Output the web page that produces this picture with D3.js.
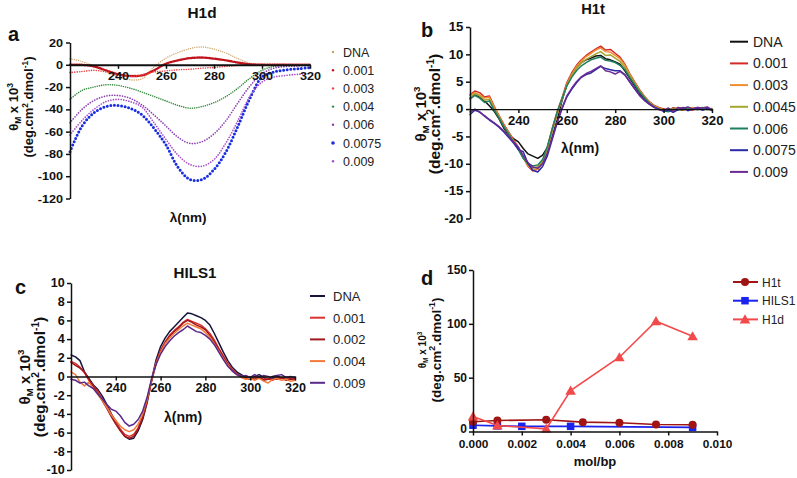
<!DOCTYPE html>
<html><head><meta charset="utf-8">
<script src="https://cdn.jsdelivr.net/npm/d3@7"></script>
<style>body{margin:0;background:#fff}svg{display:block}</style>
</head><body><svg id="chart" width="797" height="478"></svg>
<script>
// ---------- Panel a (H1d) ----------
const wlA = [220,225,230,235,240,245,250,255,260,265,270,275,280,285,290,295,300,305,310,315,320];
const a_DNA   = [5.5,3,-1,-6,-11,-13.5,-12.5,-2,6,11,14.5,16,14,10.5,5.5,1.5,0.5,0,0,0,0];
const a_0001  = [0,0,-1.5,-5,-8.5,-10,-9.5,-5,1,4,6,6.5,5.5,4,2,0.5,0,0,0,0,0];
const a_0003  = [-7,-6,-5,-6.5,-9,-10.5,-9,-6.5,-5.5,-4.5,-4,-3,-2.5,-1.5,-0.5,0,0.5,0.5,0.3,0,0];
const a_0004  = [-31,-23,-20,-18,-18.5,-21,-24.5,-28.5,-32.5,-36.5,-39,-37.5,-34,-28.5,-21,-12,-5,-1.5,-0.5,0,0];
const a_0006  = [-52,-40,-32,-28,-27.5,-30,-36,-45,-55,-65,-70.5,-69,-62,-50,-34,-19,-8,-3,-1.5,-1,-0.5];
const a_00075 = [-78,-55,-43,-37.5,-36.5,-39,-45,-57,-72,-92,-103,-103,-94,-78,-55,-30,-11,-6.5,-4.5,-3.5,-2.5];
const a_0009  = [-63,-50,-40,-33,-31,-33,-38,-52,-67,-81,-89.5,-91,-85,-70,-50,-28,-15.5,-11,-9.5,-8.5,-8];
const a_labels = ["DNA","0.001","0.003","0.004","0.006","0.0075","0.009"];
const a_yTicks = [20,0,-20,-40,-60,-80,-100,-120];
const spectraXTicks = [240,260,280,300,320];

// ---------- Panel b (H1t) ----------
const wlB = [220,222,224,226,228,230,232,234,236,238,240,242,244,246,248,250,252,254,256,258,260,262,264,266,268,270,272,274,276,278,280,282,284,286,288,290,292,294,296,298,300,302,304,306,308,310,312,314,316,318,320];
const b_DNA   = [2.0,2.7,2.2,1.5,0.6,-0.4,-1.8,-3.5,-4.7,-5.4,-6.0,-7.2,-8.2,-8.6,-9.0,-8.4,-7.0,-5.0,-2.0,1.5,4.4,6.2,7.6,8.5,9.0,9.3,9.7,9.8,9.2,9.0,8.6,8.2,7.0,5.6,4.3,3.0,2.0,1.0,0.5,0.1,0.0,-0.3,0.2,0.0,-0.2,0.2,0.1,-0.1,0.2,0.1,-0.1];
const b_0001  = [2.6,3.3,3.0,2.2,2.4,0.5,-1.2,-2.8,-4.2,-5.6,-7.0,-8.8,-10.5,-11.3,-11.0,-9.8,-7.0,-3.5,-0.5,2.0,4.8,6.6,8.0,9.0,9.8,10.4,11.0,11.5,10.8,10.9,10.2,9.5,8.2,6.5,5.0,3.6,2.4,1.4,0.7,0.3,0.0,-0.3,0.2,-0.1,0.3,0.0,-0.2,0.2,0.0,0.3,-0.3];
const b_0003  = [2.5,3.0,2.6,2.0,2.2,0.3,-1.3,-3.0,-4.4,-5.8,-7.2,-8.9,-10.4,-11.0,-11.0,-10.0,-7.5,-4.0,-1.0,1.8,4.5,6.3,7.8,8.8,9.6,10.2,10.8,11.2,10.5,10.4,9.8,9.2,8.0,6.4,4.9,3.5,2.3,1.3,0.6,0.2,-0.1,-0.4,0.1,0.2,-0.2,0.1,0.3,-0.1,0.2,0.0,-0.2];
const b_00045 = [2.0,2.8,2.4,1.6,1.8,0.0,-1.5,-3.1,-4.5,-5.9,-7.3,-8.9,-10.2,-10.8,-10.5,-9.5,-7.0,-3.8,-0.8,1.8,4.3,6.0,7.4,8.4,9.1,9.6,10.1,10.5,9.8,9.9,9.3,8.7,7.6,6.1,4.7,3.3,2.2,1.2,0.5,0.1,-0.2,0.1,-0.3,0.2,0.0,0.3,-0.1,0.1,0.3,0.0,0.1];
const b_0006  = [1.8,2.5,2.0,1.2,1.5,-0.2,-1.6,-3.2,-4.6,-6.0,-7.4,-9.0,-10.0,-10.4,-10.2,-9.2,-6.8,-3.6,-0.6,1.9,4.2,5.8,7.0,7.9,8.5,9.0,9.3,9.5,8.9,8.8,8.5,8.0,7.2,5.8,4.5,3.2,2.1,1.1,0.4,0.0,-0.3,-0.5,0.0,-0.2,0.2,0.1,0.0,0.3,0.1,-0.1,0.0];
const b_00075 = [-1.0,-0.2,-0.5,-1.3,-2.0,-2.6,-3.3,-4.2,-5.2,-6.2,-7.4,-7.8,-10.0,-11.2,-11.5,-10.5,-8.5,-5.5,-2.5,0.0,2.2,3.6,4.8,5.8,6.3,6.6,7.2,7.8,7.4,7.2,7.0,7.0,6.3,5.0,3.8,2.6,1.7,1.0,0.4,0.0,-0.4,-0.2,-0.6,-0.1,0.2,-0.3,0.0,0.2,-0.2,0.1,-0.2];
const b_0009  = [-0.5,0.0,-0.6,-1.2,-1.9,-2.5,-3.2,-4.0,-5.0,-6.0,-7.0,-8.5,-9.8,-10.6,-10.8,-10.0,-8.0,-5.2,-2.4,0.2,2.4,3.8,5.0,5.9,6.5,6.9,7.4,7.9,7.0,6.8,6.4,6.9,6.2,5.0,3.7,2.5,1.6,0.9,0.3,-0.1,-0.3,0.2,-0.5,0.3,0.1,0.4,0.0,0.3,0.2,0.4,-0.1];
const b_labels = ["DNA","0.001","0.003","0.0045","0.006","0.0075","0.009"];
const b_yTicks = [15,10,5,0,-5,-10,-15,-20];

// ---------- Panel c (HILS1) ----------
const c_DNA  = [2.3,2.1,1.7,0.5,-0.2,-0.9,-1.4,-2.1,-3.0,-4.0,-4.8,-5.7,-6.4,-6.7,-6.6,-5.8,-4.6,-2.8,-0.3,1.8,3.2,4.1,4.8,5.3,5.8,6.3,6.8,6.7,6.5,6.3,6.0,5.5,4.6,3.6,2.6,1.7,1.0,0.5,0.2,-0.1,-0.3,0.0,0.2,-0.1,-0.3,0.0,0.1,-0.2,-0.1,-0.2,-0.2];
const c_0001 = [1.6,1.4,1.0,0.4,-0.4,-1.0,-1.6,-2.4,-3.2,-4.1,-4.9,-5.6,-6.2,-6.4,-6.2,-5.5,-4.3,-2.6,-0.4,1.5,2.8,3.7,4.4,4.9,5.3,5.8,6.1,5.9,5.7,5.5,5.1,4.6,3.9,3.0,2.2,1.4,0.8,0.3,0.0,-0.2,-0.3,-0.1,0.0,-0.3,-0.2,-0.4,-0.1,-0.2,-0.3,-0.1,-0.4];
const c_0002 = [1.5,1.2,0.9,0.5,-0.3,-1.1,-1.8,-2.6,-3.4,-4.3,-5.1,-5.8,-6.4,-6.6,-6.4,-5.6,-4.4,-2.6,-0.5,1.4,2.7,3.6,4.3,4.8,5.2,5.7,6.0,5.8,5.5,5.3,5.0,4.4,3.7,2.9,2.1,1.3,0.7,0.3,0.0,-0.1,-0.2,-0.3,-0.1,-0.4,-0.3,-0.2,-0.3,-0.1,-0.4,-0.3,-0.3];
const c_0004 = [0.5,0.2,-0.6,-1.0,-0.6,-1.3,-1.9,-2.6,-3.3,-4.1,-4.7,-5.3,-5.7,-5.9,-5.7,-5.1,-4.0,-2.4,-0.3,1.4,2.6,3.5,4.1,4.6,5.0,5.4,5.7,5.5,5.3,5.1,4.7,4.2,3.5,2.7,1.9,1.2,0.6,0.2,-0.1,-0.3,-0.2,-0.4,-0.2,-0.5,-0.7,-0.3,-0.2,-0.4,-0.3,-0.5,-0.4];
const c_0009 = [-0.3,-0.4,-0.7,-0.6,-1.0,-1.3,-1.9,-2.4,-3.0,-3.5,-3.7,-4.2,-4.9,-5.3,-5.1,-4.6,-3.7,-2.2,-0.2,1.3,2.4,3.2,3.8,4.3,4.7,5.0,5.4,5.1,4.8,4.7,4.4,4.0,3.4,2.6,1.8,1.1,0.6,0.2,0.0,0.1,-0.1,0.2,-0.1,0.1,0.0,-0.2,0.1,0.2,-0.1,0.0,-0.1];
const c_labels = ["DNA","0.001","0.002","0.004","0.009"];
const c_yTicks = [10,8,6,4,2,0,-2,-4,-6,-8,-10];

// ---------- Panel d ----------
const d_xH1t   = [0,0.001,0.003,0.0045,0.006,0.0075,0.009];
const d_H1t    = [9,10.2,10.9,8.7,8.1,6.5,6.2];
const d_xHILS1 = [0,0.001,0.002,0.004,0.009];
const d_HILS1  = [5.8,5.2,4.8,4.8,3.8];
const d_xH1d   = [0,0.001,0.003,0.004,0.006,0.0075,0.009];
const d_H1d    = [14,5.5,2.5,38,69,102.5,88.5];
const d_labels = ["H1t","HILS1","H1d"];
const d_xTicks = [0,0.002,0.004,0.006,0.008,0.010];
const d_yTicks = [0,50,100,150];

// ================= drawing =================
const svg = d3.select("#chart").style("font-family","'Liberation Sans', Arial, Helvetica, sans-serif");
svg.append("rect").attr("width",797).attr("height",478).attr("fill","#fff");
const plainFmt = d => String(d);   // hyphen minus, as in the reference

function T(parent, x, y, str, o={}) {
  const size=o.size||12, sx=o.sx||1;
  let tr=`translate(${x},${y})`;
  if (o.rot) tr+=` rotate(${o.rot})`;
  if (sx!==1) tr+=` scale(${sx},1)`;
  return parent.append("text").attr("transform",tr).attr("font-size",size)
    .attr("font-weight",o.weight||"bold").attr("text-anchor",o.anchor||"start")
    .attr("fill",o.fill||"#111").text(str);
}
function yTitle(x1, x2, cy, s1, s2) {
  const t1 = svg.append("text").attr("transform",`translate(${x1},${cy}) rotate(-90)`)
    .attr("font-size",s1).attr("font-weight","bold").attr("text-anchor","middle").attr("fill","#111");
  t1.append("tspan").text("θ");
  t1.append("tspan").attr("font-size",s1*0.65).attr("dy",s1*0.22).text("M");
  t1.append("tspan").attr("dy",-s1*0.22).text(" x 10");
  t1.append("tspan").attr("font-size",s1*0.65).attr("dy",-s1*0.42).text("3");
  const t2 = svg.append("text").attr("transform",`translate(${x2},${cy}) rotate(-90)`)
    .attr("font-size",s2).attr("font-weight","bold").attr("text-anchor","middle").attr("fill","#111");
  t2.append("tspan").text("(deg.cm");
  t2.append("tspan").attr("font-size",s2*0.65).attr("dy",-s2*0.42).text("2");
  t2.append("tspan").attr("dy",s2*0.42).text(".dmol");
  t2.append("tspan").attr("font-size",s2*0.65).attr("dy",-s2*0.42).text("-1");
  t2.append("tspan").attr("dy",s2*0.42).text(")");
}
function styleAxis(g, size, sx, w) {
  g.selectAll("path.domain").attr("stroke","#111").attr("stroke-width",w||1.5);
  g.selectAll(".tick line").attr("stroke","#111").attr("stroke-width",1.5);
  g.selectAll(".tick text").attr("font-size",size).attr("font-weight","bold").attr("fill","#111")
    .attr("font-family","'Liberation Sans', Arial, sans-serif").attr("transform",`scale(${sx},1)`);
}

function spectraPanel(p) {
  const x = d3.scaleLinear([220,320],[p.x0,p.x1]);
  const y = d3.scaleLinear(p.yDom,[p.yB,p.yT]);
  const line = d3.line().x((d,i)=>x(p.wl[i])).y(d=>y(d)).curve(p.curve||d3.curveLinear);
  const g = svg.append("g");
  p.series.forEach(s=>{
    g.append("path").attr("d",line(s.v)).attr("fill","none").attr("stroke",s.c)
      .attr("stroke-width",s.w).attr("stroke-linecap","round").attr("stroke-linejoin","round")
      .attr("stroke-dasharray",s.dash||null);
  });
  const ya = svg.append("g").attr("transform",`translate(${p.x0},0)`)
    .call(d3.axisLeft(y).tickValues(p.yTicks).tickFormat(plainFmt).tickSize(4).tickPadding(2).tickSizeOuter(0));
  styleAxis(ya, p.tickSize, p.tsx);
  const xa = svg.append("g").attr("transform",`translate(0,${y(0)})`)
    .call(d3.axisBottom(x).tickValues(spectraXTicks).tickFormat(plainFmt).tickSize(4).tickPadding(3).tickSizeOuter(0));
  styleAxis(xa, p.tickSize, p.tsx, p.xw);
  return {x,y};
}

// ----- Panel a -----
const aCols = ["#c9a064","#c0141c","#f04040","#2f8a38","#8a3fb0","#1a2ee0","#a64cc8"];
const aVals = [a_DNA,a_0001,a_0003,a_0004,a_0006,a_00075,a_0009];
const aW = [1.4,2.4,1.6,1.6,1.7,3,1.7];
const aDash = ["0 2.2","0 1.6","0 2.4","0 2.2","0 2.6","0 3.6","0 2.6"];
spectraPanel({x0:70,x1:310,yT:42.5,yB:198.5,yDom:[-120,20],yTicks:a_yTicks,wl:wlA,
  curve:d3.curveCatmullRom, tickSize:11, tsx:1.15, xw:2,
  series:aVals.map((v,i)=>({v,c:aCols[i],w:aW[i],dash:aDash[i]}))});
T(svg,202,18,"H1d",{size:14,anchor:"middle",sx:1.1});
T(svg,8,41,"a",{size:20});
yTitle(18,33,107,13,13);
T(svg,188,222,"λ(nm)",{size:13.5,anchor:"middle"});
a_labels.forEach((l,i)=>{
  const cy=52+18.2*i;
  svg.append("circle").attr("cx",333).attr("cy",cy).attr("r",i===5?1.8:1.2).attr("fill",aCols[i]);
  T(svg,343,cy+4.5,l,{size:12.5,weight:"normal",fill:"#222"});
});

// ----- Panel b -----
const bCols = ["#111111","#d42a2a","#f08c32","#a6a632","#1f7f5e","#2a2aa8","#6a2a92"];
const bVals = [b_DNA,b_0001,b_0003,b_00045,b_0006,b_00075,b_0009];
spectraPanel({x0:470,x1:712,yT:27,yB:218.5,yDom:[-20,15],yTicks:b_yTicks,wl:wlB,
  tickSize:12, tsx:1.1, xw:1.3,
  series:bVals.map((v,i)=>({v,c:bCols[i],w:1.5}))});
T(svg,593,14,"H1t",{size:14,anchor:"middle",sx:1.05});
T(svg,421,37,"b",{size:20});
yTitle(426,440,114,15,15.5);
T(svg,580,153,"λ(nm)",{size:14,anchor:"middle"});
b_labels.forEach((l,i)=>{
  const cy=41.7+21.7*i;
  svg.append("line").attr("x1",730).attr("x2",748).attr("y1",cy).attr("y2",cy).attr("stroke",bCols[i]).attr("stroke-width",2);
  T(svg,753,cy+5,l,{size:14,weight:"normal",fill:"#222"});
});

// ----- Panel c -----
const cCols = ["#14143c","#d83232","#a0181c","#f27a3a","#5a2a8a"];
const cVals = [c_DNA,c_0001,c_0002,c_0004,c_0009];
spectraPanel({x0:71,x1:295,yT:283,yB:470,yDom:[-10,10],yTicks:c_yTicks,wl:wlB,
  tickSize:12, tsx:1.05, xw:1.3,
  series:cVals.map((v,i)=>({v,c:cCols[i],w:1.5}))});
T(svg,195,278,"HILS1",{size:14,anchor:"middle",sx:1.08});
T(svg,15,294,"c",{size:20});
yTitle(30,45,377,15,15.5);
T(svg,183,422,"λ(nm)",{size:14,anchor:"middle"});
c_labels.forEach((l,i)=>{
  const cy=296+21.7*i;
  svg.append("line").attr("x1",310).attr("x2",325).attr("y1",cy).attr("y2",cy).attr("stroke",cCols[i]).attr("stroke-width",2);
  T(svg,333,cy+5,l,{size:13,weight:"normal",fill:"#222"});
});

// ----- Panel d -----
const xD = d3.scaleLinear([0,0.010],[473,717]);
const yD = d3.scaleLinear([0,150],[431.5,270]);
const dCols = ["#a01414","#1a22ee","#f24a4a"];
const dLine = d3.line().x(d=>xD(d[0])).y(d=>yD(d[1]));
const gD = svg.append("g");
const sH1t = d_xH1t.map((x,i)=>[x,d_H1t[i]]);
const sHILS1 = d_xHILS1.map((x,i)=>[x,d_HILS1[i]]);
const sH1d = d_xH1d.map((x,i)=>[x,d_H1d[i]]);
const tri = d3.symbol().type(d3.symbolTriangle).size(48);
function drawSquare(g,x,y,c,s){g.append("rect").attr("x",x-s/2).attr("y",y-s/2).attr("width",s).attr("height",s).attr("fill",c);}
gD.append("path").attr("d",dLine(sHILS1)).attr("fill","none").attr("stroke",dCols[1]).attr("stroke-width",1.6);
sHILS1.forEach(d=>drawSquare(gD,xD(d[0]),yD(d[1]),dCols[1],7.5));
gD.append("path").attr("d",dLine(sH1t)).attr("fill","none").attr("stroke",dCols[0]).attr("stroke-width",1.6);
sH1t.forEach(d=>gD.append("circle").attr("cx",xD(d[0])).attr("cy",yD(d[1])).attr("r",4).attr("fill",dCols[0]));
gD.append("path").attr("d",dLine(sH1d)).attr("fill","none").attr("stroke",dCols[2]).attr("stroke-width",1.6);
sH1d.forEach(d=>gD.append("path").attr("d",tri()).attr("transform",`translate(${xD(d[0])},${yD(d[1])+1})`).attr("fill",dCols[2]));
const yaD = svg.append("g").attr("transform","translate(473,0)")
  .call(d3.axisLeft(yD).tickValues(d_yTicks).tickFormat(plainFmt).tickSize(4).tickPadding(2).tickSizeOuter(0));
styleAxis(yaD,12,1.0);
yaD.selectAll(".tick text").filter(d=>d===0).attr("dy","0.1em");
const xaD = svg.append("g").attr("transform","translate(0,431.5)")
  .call(d3.axisBottom(xD).tickValues(d_xTicks).tickFormat(d3.format(".3f")).tickSize(4).tickPadding(4).tickSizeOuter(0));
styleAxis(xaD,11.5,1.03);
T(svg,421,285,"d",{size:20});
(function(){
  const s1=10, s2=13.5, cy=350;
  const t1 = svg.append("text").attr("transform",`translate(426,${cy}) rotate(-90)`)
    .attr("font-size",s1).attr("font-weight","bold").attr("text-anchor","middle").attr("fill","#111");
  t1.append("tspan").text("θ");
  t1.append("tspan").attr("font-size",s1*0.65).attr("dy",s1*0.22).text("M");
  t1.append("tspan").attr("dy",-s1*0.22).text(" x 10");
  t1.append("tspan").attr("font-size",s1*0.65).attr("dy",-s1*0.42).text("3");
  const t2 = svg.append("text").attr("transform",`translate(441,${cy}) rotate(-90)`)
    .attr("font-size",s2).attr("font-weight","bold").attr("text-anchor","middle").attr("fill","#111");
  t2.append("tspan").text("(deg.cm");
  t2.append("tspan").attr("font-size",s2*0.65).attr("dy",-s2*0.42).text("2");
  t2.append("tspan").attr("dy",s2*0.42).text(".dmol");
  t2.append("tspan").attr("font-size",s2*0.65).attr("dy",-s2*0.42).text("-1");
  t2.append("tspan").attr("dy",s2*0.42).text(")");
})();
T(svg,595,466,"mol/bp",{size:13,anchor:"middle"});
d_labels.forEach((l,i)=>{
  const cy=282+18.7*i;
  svg.append("line").attr("x1",733).attr("x2",758).attr("y1",cy).attr("y2",cy).attr("stroke",dCols[i]).attr("stroke-width",2);
  if(i===0) svg.append("circle").attr("cx",745).attr("cy",cy).attr("r",4).attr("fill",dCols[0]);
  if(i===1) drawSquare(svg,745,cy,dCols[1],7.5);
  if(i===2) svg.append("path").attr("d",tri()).attr("transform",`translate(745,${cy+1})`).attr("fill",dCols[2]);
  T(svg,762,cy+4.5,l,{size:12,weight:"normal",fill:"#222"});
});
</script></body></html>
